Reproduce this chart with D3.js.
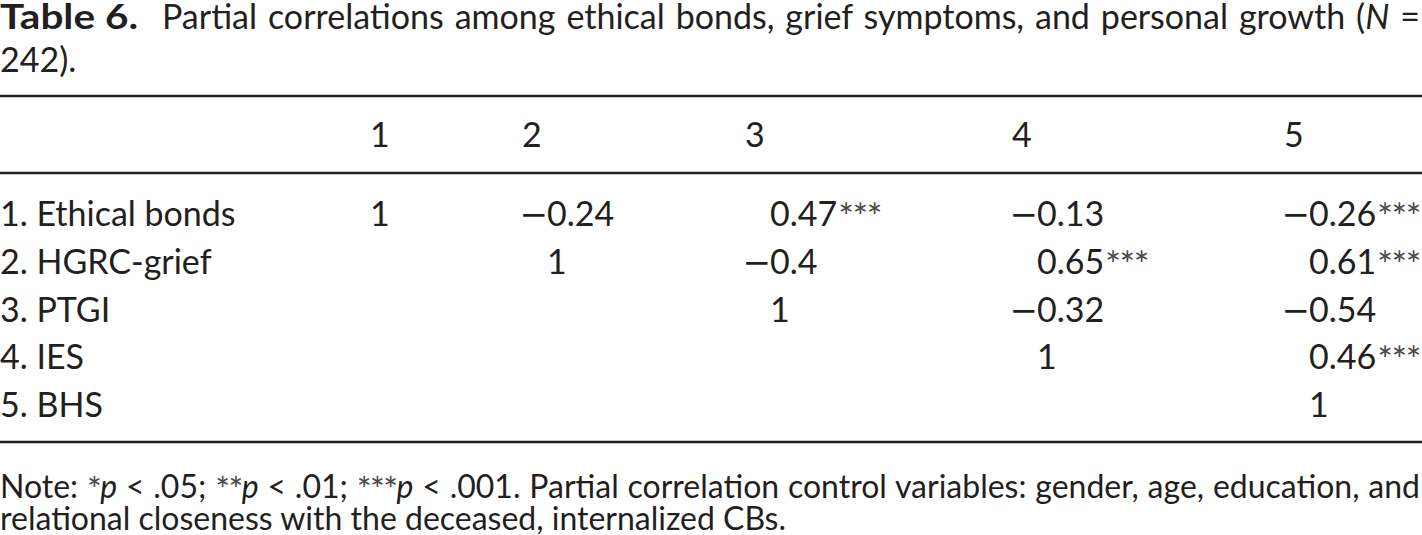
<!DOCTYPE html>
<html>
<head>
<meta charset="utf-8">
<script src="https://cdn.jsdelivr.net/npm/d3@7"></script>
<style>
  html, body { margin: 0; padding: 0; background: #ffffff; }
  svg text { font-family: Lato, "Noto Sans", sans-serif; fill: #231f20; }
</style>
</head>
<body>
<svg id="chart" width="1422" height="535"></svg>
<script>
// ---------- data ----------
const titleLabel = "Table 6.";
const titleLine1 = [
  { t: "Partial correlations among ethical bonds, grief symptoms, and personal growth (" },
  { t: "N", italic: true },
  { t: " =" }
];
const titleLine2 = "242).";
const columnLabels = ["1", "2", "3", "4", "5"];
const rowLabels = ["1. Ethical bonds", "2. HGRC-grief", "3. PTGI", "4. IES", "5. BHS"];
const correlations = [
  [1, -0.24, 0.47, -0.13, -0.26],
  [null, 1, -0.4, 0.65, 0.61],
  [null, null, 1, -0.32, -0.54],
  [null, null, null, 1, 0.46],
  [null, null, null, null, 1]
];
const significance = [
  ["", "", "***", "", "***"],
  ["", "", "", "***", "***"],
  ["", "", "", "", ""],
  ["", "", "", "", "***"],
  ["", "", "", "", ""]
];
const noteLine1 = [
  { t: "Note: " }, { t: "*", sup: true }, { t: "p", italic: true },
  { t: " < .05; " }, { t: "**", sup: true }, { t: "p", italic: true },
  { t: " < .01; " }, { t: "***", sup: true }, { t: "p", italic: true },
  { t: " < .001. Partial correlation control variables: gender, age, education, and" }
];
const noteLine2 = "relational closeness with the deceased, internalized CBs.";

// ---------- layout ----------
const W = 1422;
const FS = 34;
const NOTE_FS = 32;
const STAR_FS = 37;
const STAR_DY = 4;
const svg = d3.select("#chart");

const x = d3.scaleOrdinal().domain(columnLabels).range([370, 522, 745, 1012, 1284]);
const y = d3.scalePoint().domain(rowLabels).range([226, 417]);
const minusPad = 25;

function styleStars(ts, size) {
  ts.attr("font-size", size).attr("letter-spacing", -1.5).style("fill", "#4a4a4a");
}

// helper: segmented text, optionally justified to an end x via word-spacing
function segText(g, x0, yb, segs, endX, fs) {
  const t = g.append("text").attr("x", x0).attr("y", yb).attr("font-size", fs);
  let shifted = false;
  segs.forEach(s => {
    const ts = t.append("tspan").text(s.t);
    if (s.italic) ts.attr("font-style", "italic");
    if (s.sup) {
      styleStars(ts, fs * STAR_FS / FS);
      if (!shifted) { ts.attr("dy", STAR_DY); shifted = true; }
    } else if (shifted) { ts.attr("dy", -STAR_DY); shifted = false; }
  });
  if (endX != null) {
    const len = t.node().getComputedTextLength();
    const spaces = segs.map(s => s.t).join("").split(" ").length - 1;
    if (spaces > 0) t.attr("word-spacing", Math.max(0, (endX - x0 - len) / spaces));
  }
  return t;
}

// title
svg.append("text").attr("x", 0).attr("y", 29).attr("font-size", FS)
  .attr("font-weight", 700).attr("textLength", 138).attr("lengthAdjust", "spacingAndGlyphs")
  .text(titleLabel);
segText(svg, 162, 29, titleLine1, 1420, FS);
svg.append("text").attr("x", 0).attr("y", 72).attr("font-size", FS).text(titleLine2);

// rules
[96, 173, 442].forEach(ry => {
  svg.append("line").attr("x1", 0).attr("x2", W).attr("y1", ry).attr("y2", ry)
    .attr("stroke", "#231f20").attr("stroke-width", 2.5);
});

// header
svg.append("g").selectAll("text").data(columnLabels).join("text")
  .attr("x", d => x(d)).attr("y", 147).attr("font-size", FS).text(d => d);

// row labels
svg.append("g").selectAll("text").data(rowLabels).join("text")
  .attr("x", 0).attr("y", d => y(d)).attr("font-size", FS).text(d => d);

// cells
const colHasNeg = columnLabels.map((c, j) => correlations.some(r => r[j] != null && r[j] < 0));
const cells = [];
correlations.forEach((row, i) => row.forEach((v, j) => {
  if (v != null) cells.push({ v, i, j, sig: significance[i][j] });
}));
const fmt = v => (v === 1 ? "1" : String(Math.abs(v)));
const cellG = svg.append("g");
cells.forEach(c => {
  const cx = x(columnLabels[c.j]);
  const anchor = cx + (colHasNeg[c.j] ? minusPad : 0);
  const yy = y(rowLabels[c.i]);
  if (c.v < 0) {
    cellG.append("text").attr("x", anchor + 1).attr("y", yy).attr("font-size", FS)
      .attr("text-anchor", "end").style("font-family", "'DejaVu Sans', sans-serif")
      .text("\u2212");
  }
  const t = cellG.append("text").attr("x", anchor).attr("y", yy).attr("font-size", FS);
  t.append("tspan").text(fmt(c.v));
  if (c.sig) styleStars(t.append("tspan").attr("dx", 1).attr("dy", STAR_DY).text(c.sig), STAR_FS);
});

// note
segText(svg, 0, 498, noteLine1, 1420, NOTE_FS);
svg.append("text").attr("x", 0).attr("y", 530).attr("font-size", NOTE_FS).text(noteLine2);
</script>
</body>
</html>
